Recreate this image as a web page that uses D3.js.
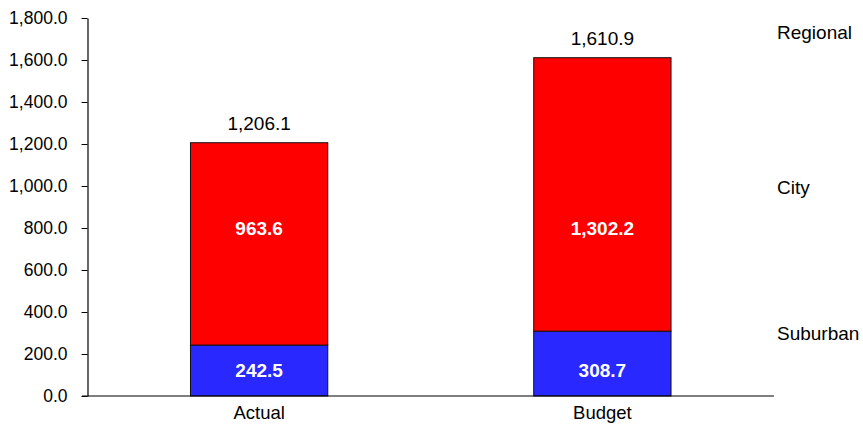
<!DOCTYPE html>
<html>
<head>
<meta charset="utf-8">
<script src="https://cdn.jsdelivr.net/npm/d3@7"></script>
<style>
html,body{margin:0;padding:0;background:#fff;}
svg{display:block;font-family:"Liberation Sans",Arial,sans-serif;}
</style>
</head>
<body>
<svg id="chart" width="863" height="426"></svg>
<script>
const categories = ["Actual", "Budget"];
const seriesNames = ["Suburban", "City", "Regional"];
const suburban = [242.5, 308.7];
const city = [963.6, 1302.2];
const regional = [0, 0];
const yTicks = [0, 200, 400, 600, 800, 1000, 1200, 1400, 1600, 1800];
const colors = {Suburban: "#2828FF", City: "#FF0000", Regional: "#FFFF00"};

const svg = d3.select("#chart");
const x = d3.scaleBand().domain(categories).range([87.5, 774]).paddingInner(0.6).paddingOuter(0.3);
const y = d3.scaleLinear().domain([0, 1800]).range([396, 18]);

const rows = categories.map((c, i) => ({cat: c, Suburban: suburban[i], City: city[i], Regional: regional[i]}));
const stack = d3.stack().keys(seriesNames)(rows);
const fmt = d3.format(",.1f");

// y axis
const yAxis = d3.axisLeft(y).tickValues(yTicks).tickFormat(fmt).tickSize(6).tickSizeOuter(0);
const gy = svg.append("g").attr("transform", "translate(87.5,0)").call(yAxis);
gy.select(".domain").attr("stroke", "#000").attr("stroke-width", 1.2);
gy.selectAll(".tick line").attr("stroke", "#000");
gy.selectAll(".tick text").attr("font-size", "17.5px").attr("fill", "#000").attr("x", -20)
  .attr("font-family", "Liberation Sans, Arial, sans-serif");

// bars
stack.forEach(layer => {
  svg.append("g").selectAll("rect").data(layer).join("rect")
    .attr("x", d => x(d.data.cat))
    .attr("width", x.bandwidth())
    .attr("y", d => y(d[1]))
    .attr("height", d => y(d[0]) - y(d[1]))
    .attr("fill", colors[layer.key])
    .attr("stroke", d => (d[1] - d[0]) > 0 ? "#111" : "none")
    .attr("stroke-width", 1);
});

// x axis baseline
const xAxis = d3.axisBottom(x).tickSize(0).tickSizeOuter(0);
const gx = svg.append("g").attr("transform", "translate(0,396)").call(xAxis);
gx.select(".domain").attr("stroke", "#000").attr("stroke-width", 1.2).attr("d", "M82,0H774");
gx.selectAll(".tick text").attr("font-size", "18.5px").attr("fill", "#000").attr("dy", 0).attr("y", 23)
  .attr("font-family", "Liberation Sans, Arial, sans-serif");

// City labels
svg.append("g").selectAll("text").data(rows).join("text")
  .attr("x", d => x(d.cat) + x.bandwidth() / 2)
  .attr("y", y(800) + 7)
  .attr("text-anchor", "middle").attr("font-size", "19px").attr("font-weight", "bold").attr("fill", "#fff")
  .text(d => fmt(d.City));

// Suburban labels
svg.append("g").selectAll("text").data(rows).join("text")
  .attr("x", d => x(d.cat) + x.bandwidth() / 2)
  .attr("y", y(0) - 19)
  .attr("text-anchor", "middle").attr("font-size", "19px").attr("font-weight", "bold").attr("fill", "#fff")
  .text(d => fmt(d.Suburban));

// Totals
svg.append("g").selectAll("text").data(rows).join("text")
  .attr("x", d => x(d.cat) + x.bandwidth() / 2)
  .attr("y", d => y(d.Suburban + d.City + d.Regional) - 13)
  .attr("text-anchor", "middle").attr("font-size", "19px").attr("fill", "#000")
  .text(d => fmt(d.Suburban + d.City + d.Regional));

// Legend labels
const legendY = {Regional: 39, City: 194, Suburban: 340};
svg.append("g").selectAll("text").data(seriesNames.slice().reverse()).join("text")
  .attr("x", 777)
  .attr("y", d => legendY[d])
  .attr("font-size", "19px").attr("fill", "#000")
  .text(d => d);
</script>
</body>
</html>
